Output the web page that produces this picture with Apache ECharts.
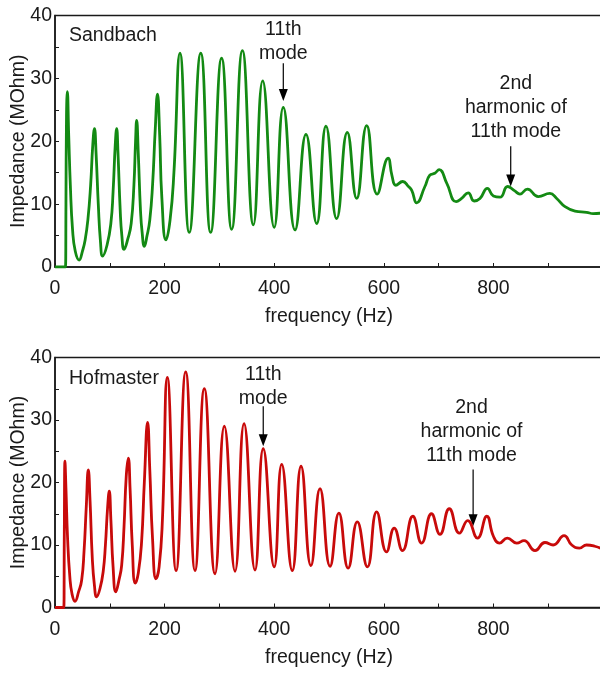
<!DOCTYPE html>
<html>
<head>
<meta charset="utf-8">
<script src="https://cdn.jsdelivr.net/npm/echarts@6/dist/echarts.min.js"></script>
<style>
  html, body { margin: 0; padding: 0; background: #fff; }
  #chart { width: 600px; height: 673px; }
</style>
</head>
<body>
<div id="chart"></div>
<script>
// Sandbach trace [frequency Hz, impedance MOhm]
const sandbachPoints = [
  [0,0],[19,0],[20,10],[21,24],[22.5,27.9],[25,21],[28,13],[32,6],[37,2.5],[44,1.1],
  [50,2.5],[55,4.3],[60,7.5],[65,13],[69,19.5],[72,22],[75,18],[79,10],[83,4],[87,1.75],
  [95,3.5],[102,7],[106,12],[110,19.5],[112.5,22],[115,18],[119,9],[122,5],[126,2.8],
  [133,4.5],[139,6.9],[144,13],[147,20],[149,23.3],[152,18],[156,9],[159,5.5],[163,3.3],
  [168,5],[173,7.5],[178,13],[183,22],[187,27.5],[191,21],[195,11],[202.5,4.3],
  [210,7.5],[217,15],[228,34],[245,5.5],[266,34],[284,5.5],[304,33.2],[322.4,6],
  [342,34.4],[362,6.7],[379,29.6],[400,6.3],[416.6,25.4],[438,5.9],[458,21.1],[477.5,6.9],
  [494.5,22.4],[514,7.7],[533.4,21.4],[550.5,10.9],[568.8,22.5],[588,11.6],
  [608,17.3],[615,14.5],[622,13],[634.5,13.6],[645,12.8],[651,12.2],[660,10.2],
  [675,12.8],[684,14.6],[693,14.9],[701,15.5],[715,13.3],[732,10.4],[742,10.9],
  [754,11.8],[765,10.5],[775.5,10.9],[789,12.5],[800,11.3],[812,11.1],[826,12.8],
  [839,12.1],[848.5,11.6],[862,12.4],[882,11.2],[903,11.7],[915.5,10.9],[930.7,9.6],
  [949,8.9],[970,8.7],[982,8.5],[1000,8.6]
];

// Hofmaster trace [frequency Hz, impedance MOhm]
const hofmasterPoints = [
  [0,0],[16,0],[17,12],[18.2,23.4],[20,19],[23,11],[27,5],[31,2.2],[36.5,1],
  [43,2.5],[48.7,4.4],[53,9],[57,16],[60.8,22],[64,17],[68,8],[72,3.5],[76,1.7],
  [82,3],[88,5.8],[92,10],[96,16],[99,18.6],[102,14],[106,6.5],[111,2.5],
  [117,4.5],[121.7,6.8],[126,13],[130,21],[133.8,23.9],[137,19],[141,10],[146.5,3.9],
  [152,5.5],[158,10.5],[163,20],[169,29.6],[173,22],[178,11],[184.3,4.6],
  [190,6.5],[196,14],[205,36.8],[221,5.9],[238.5,37.7],[255.5,5.9],[272.5,35],[292,5.4],
  [309,29],[328.5,5.8],[345,29.4],[365,6],[380,25.4],[400,6.5],[413.7,22.9],[433,5.9],
  [449,22.6],[467,6.7],[483.6,19],[502,6.6],[518,15.1],[535,6.3],[551.6,13.7],[570,6.5],
  [587,15.3],[605,8.9],[619,12.7],[634,9.1],[653,14.6],[669,10.3],[687,15],[702.5,11.7],
  [719.5,15.8],[738,11.9],[753,13.9],[771,11.1],[788,14.6],[800,11.4],[811,10.3],
  [825.4,11.1],[842.5,10.3],[855.8,10.7],[876,9.1],[894,10.4],[909,10],[929,11.5],
  [943,10],[957,9.5],[970,10],[985,9.8],[1000,9.3]
];

const panelTitles = ['Sandbach', 'Hofmaster'];
const lineColors = ['#138a13', '#c80a0a'];
const xTicks = { min: 0, max: 1000, interval: 200 };
const yTicks = { min: 0, max: 40, interval: 10 };

// annotations: grid, arrow freq, arrow tail / tip value, text anchor [freq, value of last line], lines
const annotations = [
  {grid: 0, f: 416.6, tail: 32.4, tip: 26.4, text: [416.6, 34.0], lines: ['11th', 'mode']},
  {grid: 0, f: 831.6, tail: 19.2, tip: 12.8, text: [841, 21.5], lines: ['2nd', 'harmonic of', '11th mode']},
  {grid: 1, f: 380, tail: 32.2, tip: 25.8, text: [380, 33.4], lines: ['11th', 'mode']},
  {grid: 1, f: 763, tail: 22.1, tip: 13.0, text: [760, 24.3], lines: ['2nd', 'harmonic of', '11th mode']}
];

const FONT = '"Liberation Sans", Arial, sans-serif';
const FS = 19.5;
const INK = '#1a1a1a';

const chart = echarts.init(document.getElementById('chart'), null, {renderer: 'canvas'});

function xAxisFor(i) {
  return {
    type: 'value', gridIndex: i,
    min: xTicks.min, max: xTicks.max, interval: xTicks.interval,
    name: 'frequency (Hz)', nameLocation: 'middle', nameGap: 40, nameMoveOverlap: false,
    nameTextStyle: {fontFamily: FONT, fontSize: FS, color: INK},
    axisLine: {lineStyle: {color: INK, width: 1.5}},
    axisTick: {inside: true, length: 4, lineStyle: {color: INK, width: 1}},
    minorTick: {show: true, splitNumber: 2, length: 4, lineStyle: {color: INK, width: 1}},
    axisLabel: {margin: 12, fontFamily: FONT, fontSize: FS, color: INK, showMaxLabel: false},
    splitLine: {show: false}
  };
}

function yAxisFor(i) {
  return {
    type: 'value', gridIndex: i,
    min: yTicks.min, max: yTicks.max, interval: yTicks.interval,
    name: 'Impedance (MOhm)', nameLocation: 'middle', nameGap: 26, nameMoveOverlap: false,
    nameTextStyle: {fontFamily: FONT, fontSize: FS, color: INK},
    axisLine: {lineStyle: {color: INK, width: 1.5}},
    axisTick: {inside: true, length: 4, lineStyle: {color: INK, width: 1}},
    minorTick: {show: true, splitNumber: 2, length: 4, lineStyle: {color: INK, width: 1}},
    axisLabel: {margin: 3, fontFamily: FONT, fontSize: FS, color: INK, padding: [4, 0, 0, 0]},
    splitLine: {show: false}
  };
}

const option = {
  animation: false,
  backgroundColor: '#fff',
  grid: [
    {left: 55, top: 15.5, width: 548, height: 251.5, show: true, borderColor: INK, borderWidth: 1.5,
     containLabel: false, outerBoundsMode: 'none'},
    {left: 55, top: 357.5, width: 548, height: 250, show: true, borderColor: INK, borderWidth: 1.5,
     containLabel: false, outerBoundsMode: 'none'}
  ],
  xAxis: [xAxisFor(0), xAxisFor(1)],
  yAxis: [yAxisFor(0), yAxisFor(1)],
  series: [
    {
      name: panelTitles[0], type: 'line', xAxisIndex: 0, yAxisIndex: 0,
      data: sandbachPoints, showSymbol: false, smooth: 0.5,
      lineStyle: {color: lineColors[0], width: 2.8}
    },
    {
      name: panelTitles[1], type: 'line', xAxisIndex: 1, yAxisIndex: 1,
      data: hofmasterPoints, showSymbol: false, smooth: 0.5,
      lineStyle: {color: lineColors[1], width: 2.8}
    }
  ]
};
chart.setOption(option);

// panel names, notes and arrows, placed from data coordinates
const graphics = [];
[[0, 69, 36], [1, 69, 379]].forEach(([g, x, y]) => {
  graphics.push({
    type: 'text', x: x, y: y,
    style: {text: panelTitles[g], font: FS + 'px ' + FONT, fill: INK, verticalAlign: 'middle'}
  });
});

annotations.forEach(a => {
  const p0 = chart.convertToPixel({gridIndex: a.grid}, [a.f, a.tail]);
  const p1 = chart.convertToPixel({gridIndex: a.grid}, [a.f, a.tip]);
  const pt = chart.convertToPixel({gridIndex: a.grid}, a.text);
  graphics.push({
    type: 'line',
    shape: {x1: p0[0], y1: p0[1], x2: p1[0], y2: p1[1] - 10},
    style: {stroke: '#000', lineWidth: 1.2}
  });
  graphics.push({
    type: 'polygon',
    shape: {points: [[p1[0] - 4.5, p1[1] - 12], [p1[0] + 4.5, p1[1] - 12], [p1[0], p1[1]]]},
    style: {fill: '#000'}
  });
  const lh = 24;
  a.lines.forEach((t, k) => {
    graphics.push({
      type: 'text',
      x: pt[0], y: pt[1] - (a.lines.length - 1 - k) * lh,
      style: {text: t, font: FS + 'px ' + FONT, fill: INK, align: 'center', verticalAlign: 'middle'}
    });
  });
});

chart.setOption({graphic: graphics});
</script>
</body>
</html>
